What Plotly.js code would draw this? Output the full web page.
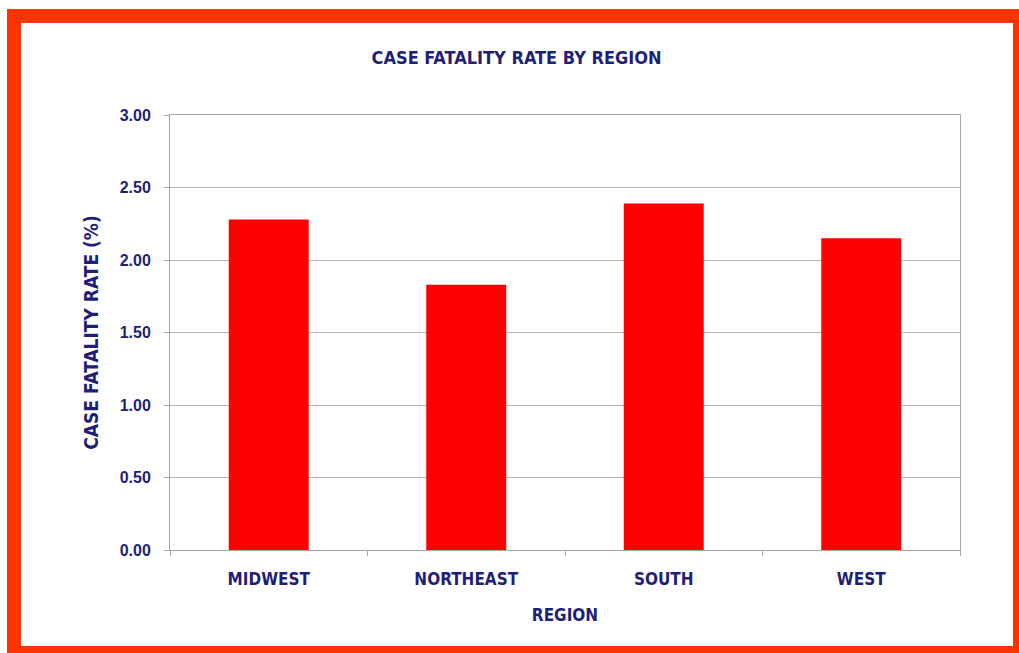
<!DOCTYPE html>
<html>
<head>
<meta charset="utf-8">
<script src="https://cdn.plot.ly/plotly-3.0.1.min.js"></script>
<style>
  html, body { margin: 0; padding: 0; background: #ffffff; overflow: hidden; }
  #wrap { position: relative; width: 1019px; height: 653px; overflow: hidden; }
  #chart { position: absolute; left: 0; top: 0; width: 1019px; height: 653px; }
  #frame { position: absolute; left: 7px; top: 9px; width: 992px; height: 623px;
           border: 14px solid #ff3300; pointer-events: none; }
</style>
</head>
<body>
<div id="wrap">
  <div id="chart"></div>
  <div id="frame"></div>
</div>
<script>
const regions = ["MIDWEST", "NORTHEAST", "SOUTH", "WEST"];
const fatalityRates = [2.28, 1.83, 2.39, 2.15];
const yTickValues = [0, 0.5, 1.0, 1.5, 2.0, 2.5, 3.0];
const yTickLabels = ["0.00", "0.50", "1.00", "1.50", "2.00", "2.50", "3.00"];

const navy = "#1f1f78";
const font = "'DejaVu Sans Condensed', 'Liberation Sans Narrow', sans-serif";

const trace = {
  type: "bar",
  x: regions,
  y: fatalityRates,
  marker: { color: "#ff0000", line: { width: 0 } },
  hoverinfo: "x+y"
};

const layout = {
  width: 1019,
  height: 653,
  margin: { l: 170, r: 59, t: 115, b: 103 },
  paper_bgcolor: "#ffffff",
  plot_bgcolor: "#ffffff",
  showlegend: false,
  bargap: 0.595,
  title: {
    text: "CASE FATALITY RATE BY REGION",
    font: { family: font, size: 18, color: navy, weight: "bold" },
    x: 0.507, xanchor: "center",
    y: 1 - 58 / 653, yanchor: "middle"
  },
  xaxis: {
    type: "category",
    showgrid: false,
    showline: true, linecolor: "#a8a8a8", linewidth: 1,
    mirror: true,
    ticks: "outside", tickson: "boundaries", ticklen: 5, tickcolor: "#a8a8a8",
    ticklabelstandoff: 14,
    tickfont: { family: font, size: 17, color: navy, weight: "bold" },
    title: { text: "REGION", standoff: 20,
             font: { family: font, size: 17, color: navy, weight: "bold" } }
  },
  yaxis: {
    range: [0, 3],
    tickmode: "array",
    tickvals: yTickValues,
    ticktext: yTickLabels,
    showgrid: true, gridcolor: "#b4b4b4", gridwidth: 1,
    showline: true, linecolor: "#a8a8a8", linewidth: 1,
    mirror: true,
    zeroline: false,
    ticks: "outside", ticklen: 5, tickcolor: "#a8a8a8",
    ticklabelstandoff: 10,
    tickfont: { family: "'Liberation Sans', Arial, sans-serif", size: 16, color: navy, weight: "bold" },
    title: { text: "CASE FATALITY RATE (%)", standoff: 16,
             font: { family: font, size: 19, color: navy, weight: "bold" } }
  }
};

Plotly.newPlot("chart", [trace], layout, { displayModeBar: false, staticPlot: true });
</script>
</body>
</html>
